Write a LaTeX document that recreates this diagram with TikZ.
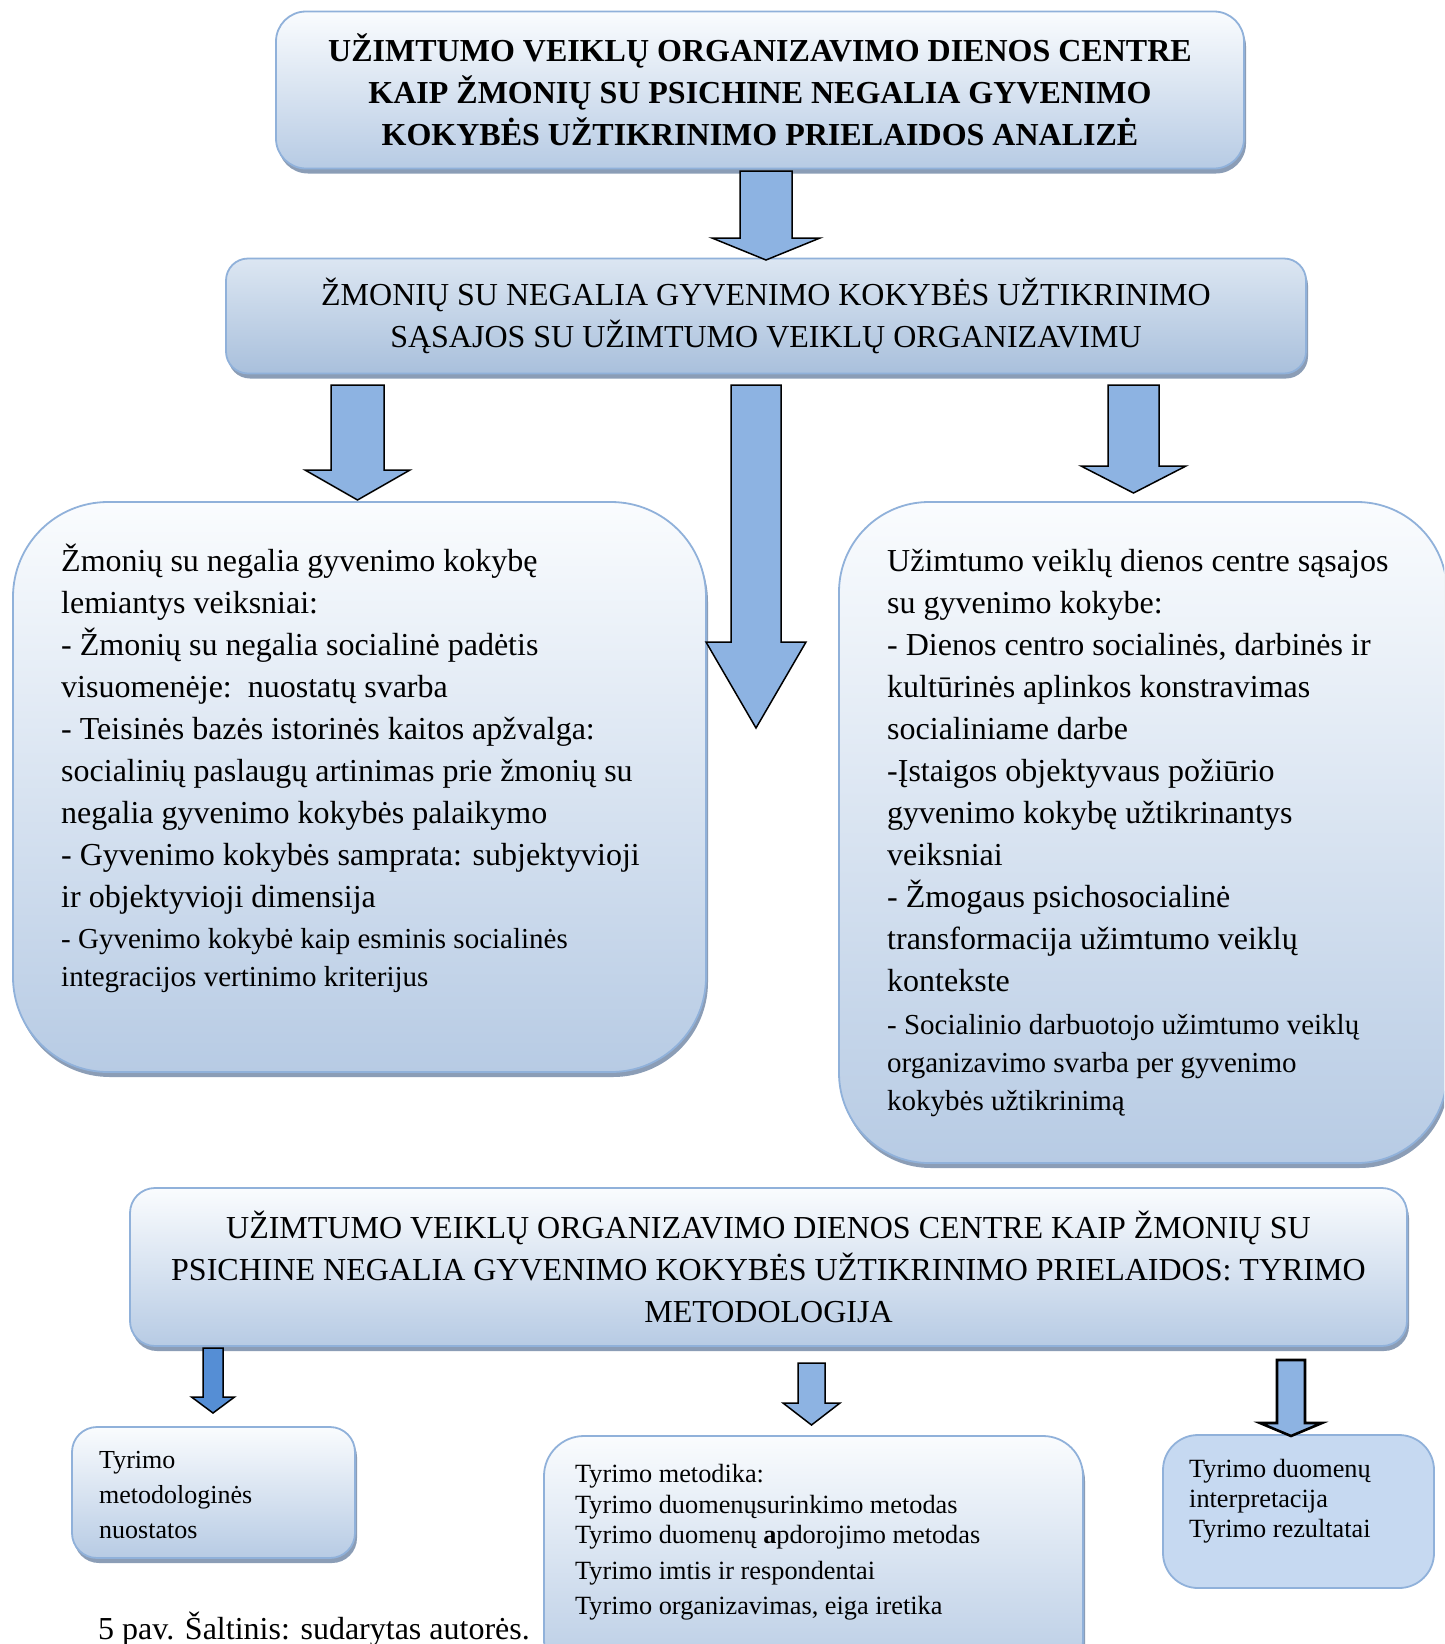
\documentclass[tikz,border=0pt]{standalone}
\usepackage{fontspec}
\setmainfont{Liberation Serif}
\usetikzlibrary{shadows,calc}

\definecolor{boxtop}{HTML}{FAFCFE}
\definecolor{boxbot}{HTML}{B7CBE4}
\definecolor{linktop}{HTML}{DCE6F2}
\definecolor{linkbot}{HTML}{A9C0DC}
\definecolor{boxline}{HTML}{90B1DA}
\definecolor{shadowc}{HTML}{8B9DB6}
\definecolor{arrowfill}{HTML}{8DB3E2}
\definecolor{arrowdark}{HTML}{558ED5}
\definecolor{flatfill}{HTML}{C6D9F1}

% block arrow between two named coordinates:
% [style]{start}{tip}{shaft half width}{head half width}{head length}
\newcommand\blockarrow[6][]{%
  \draw[blockarr,#1] let \p1=(#2), \p2=(#3) in
    (\x1-#4pt,\y1) -- (\x1+#4pt,\y1) -- (\x1+#4pt,\y2+#6pt)
    -- (\x1+#5pt,\y2+#6pt) -- (\x2,\y2) -- (\x1-#5pt,\y2+#6pt)
    -- (\x1-#4pt,\y2+#6pt) -- cycle;}

\tikzset{
  panel/.style={rectangle, draw=boxline, line width=1.8pt, inner sep=0pt,
    top color=boxtop, bottom color=boxbot,
    drop shadow={shadow xshift=2pt, shadow yshift=-5pt, fill=shadowc, opacity=1}},
  linkpanel/.style={panel, top color=linktop, bottom color=linkbot},
  flatpanel/.style={rectangle, draw=boxline, line width=1.8pt, inner sep=0pt, fill=flatfill},
  blockarr/.style={draw=black, line width=1.5pt, fill=arrowfill, line join=miter},
  bodytext/.style={anchor=north west, inner sep=0pt, align=left},
  bigfont/.style={font=\fontsize{32}{42}\selectfont},
  midfont/.style={font=\fontsize{29}{38}\selectfont},
}

\begin{document}
\begin{tikzpicture}[x=1pt,y=-1pt]
\useasboundingbox (0,0) rectangle (1444,1644);
\fill[white] (0,0) rectangle (1444,1644);
\clip (0,0) rectangle (1444,1644);

% title box
\node[panel, rounded corners=30pt, minimum width=968pt, minimum height=157pt,
      font=\bfseries\fontsize{32}{42}\selectfont, align=center] (title) at (760,90)
  {UŽIMTUMO VEIKLŲ ORGANIZAVIMO DIENOS CENTRE\\KAIP ŽMONIŲ SU PSICHINE NEGALIA GYVENIMO\\KOKYBĖS UŽTIKRINIMO PRIELAIDOS ANALIZĖ};

% second level
\node[linkpanel, rounded corners=22pt, minimum width=1080pt, minimum height=115pt,
      bigfont, align=center] (link) at (766,316)
  {ŽMONIŲ SU NEGALIA GYVENIMO KOKYBĖS UŽTIKRINIMO\\SĄSAJOS SU UŽIMTUMO VEIKLŲ ORGANIZAVIMU};

% left and right content boxes
\node[panel, rounded corners=95pt, minimum width=693pt, minimum height=570pt] (factors) at (359.5,787) {};
\node[bodytext, bigfont] (factorsA) at (61,541.6)
  {\strut Žmonių su negalia gyvenimo kokybę\\
   lemiantys veiksniai:\\
   - Žmonių su negalia socialinė padėtis\\
   visuomenėje:\ \ nuostatų svarba\\
   - Teisinės bazės istorinės kaitos apžvalga:\\
   socialinių paslaugų artinimas prie žmonių su\\
   negalia gyvenimo kokybės palaikymo\\
   - Gyvenimo kokybės samprata: subjektyvioji\\
   ir objektyvioji dimensija};
\node[bodytext, midfont] (factorsB) at (61,921.4)
  {\strut - Gyvenimo kokybė kaip esminis socialinės\\
   integracijos vertinimo kriterijus};

\node[panel, rounded corners=90pt, minimum width=608pt, minimum height=661pt] (links) at (1143,832.5) {};
\node[bodytext, bigfont] (linksA) at (887,542)
  {\strut Užimtumo veiklų dienos centre sąsajos\\
   su gyvenimo kokybe:\\
   - Dienos centro socialinės, darbinės ir\\
   kultūrinės aplinkos konstravimas\\
   socialiniame darbe\\
   -Įstaigos objektyvaus požiūrio\\
   gyvenimo kokybę užtikrinantys\\
   veiksniai\\
   - Žmogaus psichosocialinė\\
   transformacija užimtumo veiklų\\
   kontekste};
\node[bodytext, midfont] (linksB) at (887,1008)
  {\strut - Socialinio darbuotojo užimtumo veiklų\\
   organizavimo svarba per gyvenimo\\
   kokybės užtikrinimą};

% methodology box
\node[panel, rounded corners=25pt, minimum width=1277pt, minimum height=158pt,
      bigfont, align=center] (method) at (768.5,1267)
  {UŽIMTUMO VEIKLŲ ORGANIZAVIMO DIENOS CENTRE KAIP ŽMONIŲ SU\\PSICHINE NEGALIA GYVENIMO KOKYBĖS UŽTIKRINIMO PRIELAIDOS: TYRIMO\\METODOLOGIJA};

% bottom boxes
\node[panel, rounded corners=25pt, minimum width=283pt, minimum height=131pt] (premises) at (213.5,1492.5) {};
\node[bodytext, font=\fontsize{26}{35}\selectfont] (premisesT) at (99,1443.5)
  {\strut Tyrimo\\ metodologinės\\ nuostatos};

\node[panel, rounded corners=40pt, minimum width=539pt, minimum height=244pt] (methods) at (813.5,1558) {};
\node[bodytext, font=\fontsize{26.3}{30.5}\selectfont] (methodsT) at (575,1461)
  {\strut Tyrimo metodika:\\
   Tyrimo duomenųsurinkimo metodas\\
   Tyrimo duomenų \textbf{a}pdorojimo metodas\\[5pt]
   Tyrimo imtis ir respondentai\\[5pt]
   Tyrimo organizavimas, eiga iretika};

\node[flatpanel, rounded corners=35pt, minimum width=271pt, minimum height=153pt] (results) at (1298.5,1511.5) {};
\node[bodytext, font=\fontsize{26.3}{30}\selectfont] (resultsT) at (1189,1456)
  {\strut Tyrimo duomenų\\ interpretacija\\ Tyrimo rezultatai};

% caption
\node[anchor=base west, inner sep=0pt, font=\fontsize{32}{40}\selectfont] (caption) at (98,1639)
  {5 pav. Šaltinis: sudarytas autorės.};

% arrow end points
\coordinate (a0s) at (766,171);  \coordinate (a0t) at (766,260);
\coordinate (a1s) at (357.5,385); \coordinate (a1t) at (357.5,500);
\coordinate (a2s) at (756,385);  \coordinate (a2t) at (756,728);
\coordinate (a3s) at (1133.5,385); \coordinate (a3t) at (1133.5,493);
\coordinate (a4s) at (213,1348); \coordinate (a4t) at (213,1413);
\coordinate (a5s) at (811.5,1363); \coordinate (a5t) at (811.5,1425);
\coordinate (a6s) at (1291,1360); \coordinate (a6t) at (1291,1436);

\blockarrow{a0s}{a0t}{26}{54}{22}
\blockarrow{a1s}{a1t}{26.5}{52.5}{30}
\blockarrow{a2s}{a2t}{25}{50}{86}
\blockarrow{a3s}{a3t}{25.5}{52.5}{27}
\blockarrow[fill=arrowdark]{a4s}{a4t}{10}{21.5}{16}
\blockarrow{a5s}{a5t}{13.5}{28.5}{22}
\blockarrow[line width=2.6pt]{a6s}{a6t}{14}{31}{13}
\end{tikzpicture}
\end{document}
